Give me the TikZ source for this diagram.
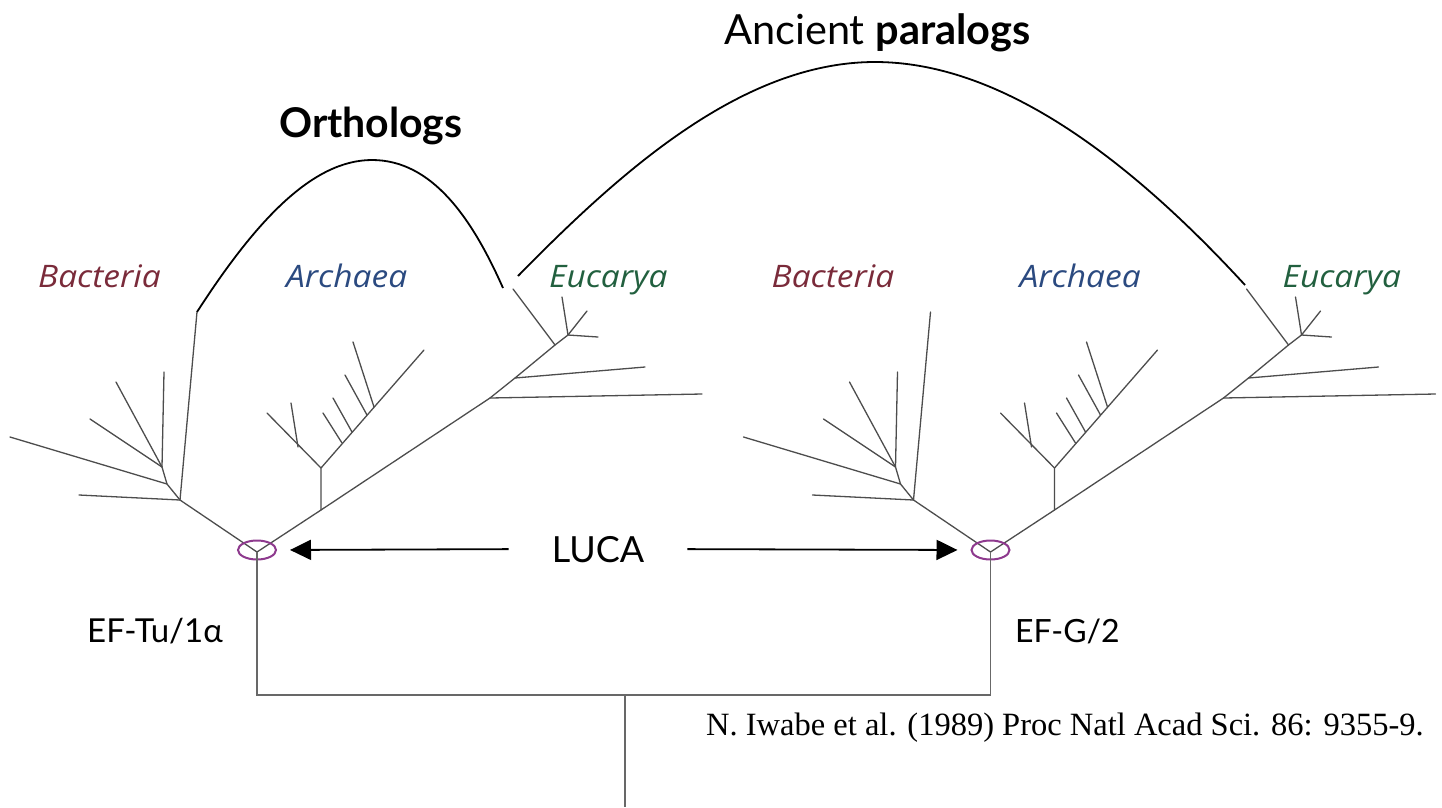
\documentclass[tikz,border=0pt]{standalone}
\usepackage{fontspec}
\setmainfont{Liberation Serif}
\newfontfamily\optfont{Lato}
\newfontfamily\labfont[FakeStretch=1.08]{Open Sans}
\usetikzlibrary{arrows.meta,shapes.geometric}
\definecolor{bact}{HTML}{7A2B3A}
\definecolor{arch}{HTML}{2B4A80}
\definecolor{euca}{HTML}{22603F}
\definecolor{lucac}{HTML}{8E3A8E}
\definecolor{treec}{HTML}{4D4D4D}
\begin{document}
\begin{tikzpicture}[x=1pt,y=-1pt,
  branch/.style={draw=treec, line width=1.3pt, line cap=round},
  frame/.style={draw=treec!85, line width=1.5pt},
  arch/.style={draw=black, line width=1.8pt},
  arr/.style={draw=black, line width=1.8pt, -{Triangle[length=21pt,width=20pt]}, shorten >=13pt},
  ring/.style={ellipse, draw=lucac, line width=2pt, minimum width=38pt, minimum height=19pt, inner sep=0pt},
  domlab/.style={inner sep=0pt, anchor=base west, font=\labfont\itshape\fontsize{31}{31}\selectfont},
  optlab/.style={inner sep=0pt, anchor=base west, font=\optfont\fontsize{33}{33}\selectfont},
]
\useasboundingbox (0,0) rectangle (1442,807);
\fill[white] (0,0) rectangle (1442,807);

% two trees (second shifted)
\foreach \s/\n in {0/L,733.5/R}{
\begin{scope}[shift={(\s,0)}]
  \coordinate (root\n) at (257,552);
  \coordinate (bt\n) at (197,312);
  \coordinate (et\n) at (513,289);
  % Bacteria
  \draw[branch] (root\n) -- (180,500) -- (79,495);
  \draw[branch] (180,500) -- (bt\n);
  \draw[branch] (180,500) -- (167,484) -- (10,437);
  \draw[branch] (167,484) -- (162,467) -- (90,419);
  \draw[branch] (162,467) -- (164,372);
  \draw[branch] (162,467) -- (116,382);
  % trunk
  \draw[branch] (root\n) -- (321,510) -- (490,398) -- (515,378) -- (555,345) -- (568,335);
  % Archaea
  \draw[branch] (321,510) -- (321,468) -- (267,413);
  \draw[branch] (298,447) -- (291,403);
  \draw[branch] (321,468) -- (424,350);
  \draw[branch] (342,443) -- (323,413);
  \draw[branch] (352,432) -- (333,398);
  \draw[branch] (367,415) -- (345,375);
  \draw[branch] (374,407) -- (353,342);
  % Eucarya
  \draw[branch] (490,398) -- (702,394);
  \draw[branch] (515,378) -- (645,367);
  \draw[branch] (555,345) -- (et\n);
  \draw[branch] (568,335) -- (562,297);
  \draw[branch] (568,335) -- (587,311);
  \draw[branch] (568,335) -- (598,337);
  % labels
  \node[domlab, text=bact] (bac\n) at (38,287) {Bacteria};
  \node[domlab, text=arch] (arc\n) at (286,287) {Archaea};
  \node[domlab, text=euca] (euc\n) at (549,287) {Eucarya};
\end{scope}
}

% LUCA rings
\node[ring] (ringL) at (257,550) {};
\node[ring] (ringR) at (990.5,550) {};

% gene duplication frame
\coordinate (split) at (625,695);
\coordinate (base) at (625,807);
\draw[frame] (rootL) -- (257,695) -- (990.5,695) -- (rootR);
\draw[frame] (split) -- (base);

% LUCA label and arrows
\node[optlab, anchor=base, inner xsep=43pt, font=\optfont\fontsize{36}{36}\selectfont] (luca) at (598,562) {LUCA};
\draw[arr] (luca.west) -- (ringL.east);
\draw[arr] (luca.east) -- (ringR.west);

% gene labels
\node[optlab] (eftu) at (87,642) {EF-Tu/1α};
\node[optlab, font=\optfont\fontsize{32}{32}\selectfont] (efg) at (1015,642) {EF-G/2};

% arches
\coordinate (o1) at (197,312);
\coordinate (o2) at (503,288);
\coordinate (p1) at (518,276);
\coordinate (p2) at (1245,285);
\draw[arch] (o1) .. controls (255,222) and (312,160) .. (372,160)
            .. controls (432,160) and (472,218) .. (o2);
\draw[arch] (p1) .. controls (620,172) and (742,62) .. (875,62)
            .. controls (1002,62) and (1130,160) .. (p2);

\node[inner sep=0pt, anchor=base west, font=\optfont\fontsize{41}{41}\selectfont\bfseries] (orth) at (279,137) {Orthologs};
\node[inner sep=0pt, anchor=base west, font=\optfont\fontsize{41.5}{41.5}\selectfont] (para) at (724,44) {Ancient \textbf{paralogs}};

\node[inner sep=0pt, anchor=base west, font=\fontsize{32.5}{32.5}\selectfont] (cite) at (706,735) {N. Iwabe et al. (1989) Proc Natl Acad Sci. 86: 9355-9.};
\end{tikzpicture}
\end{document}
